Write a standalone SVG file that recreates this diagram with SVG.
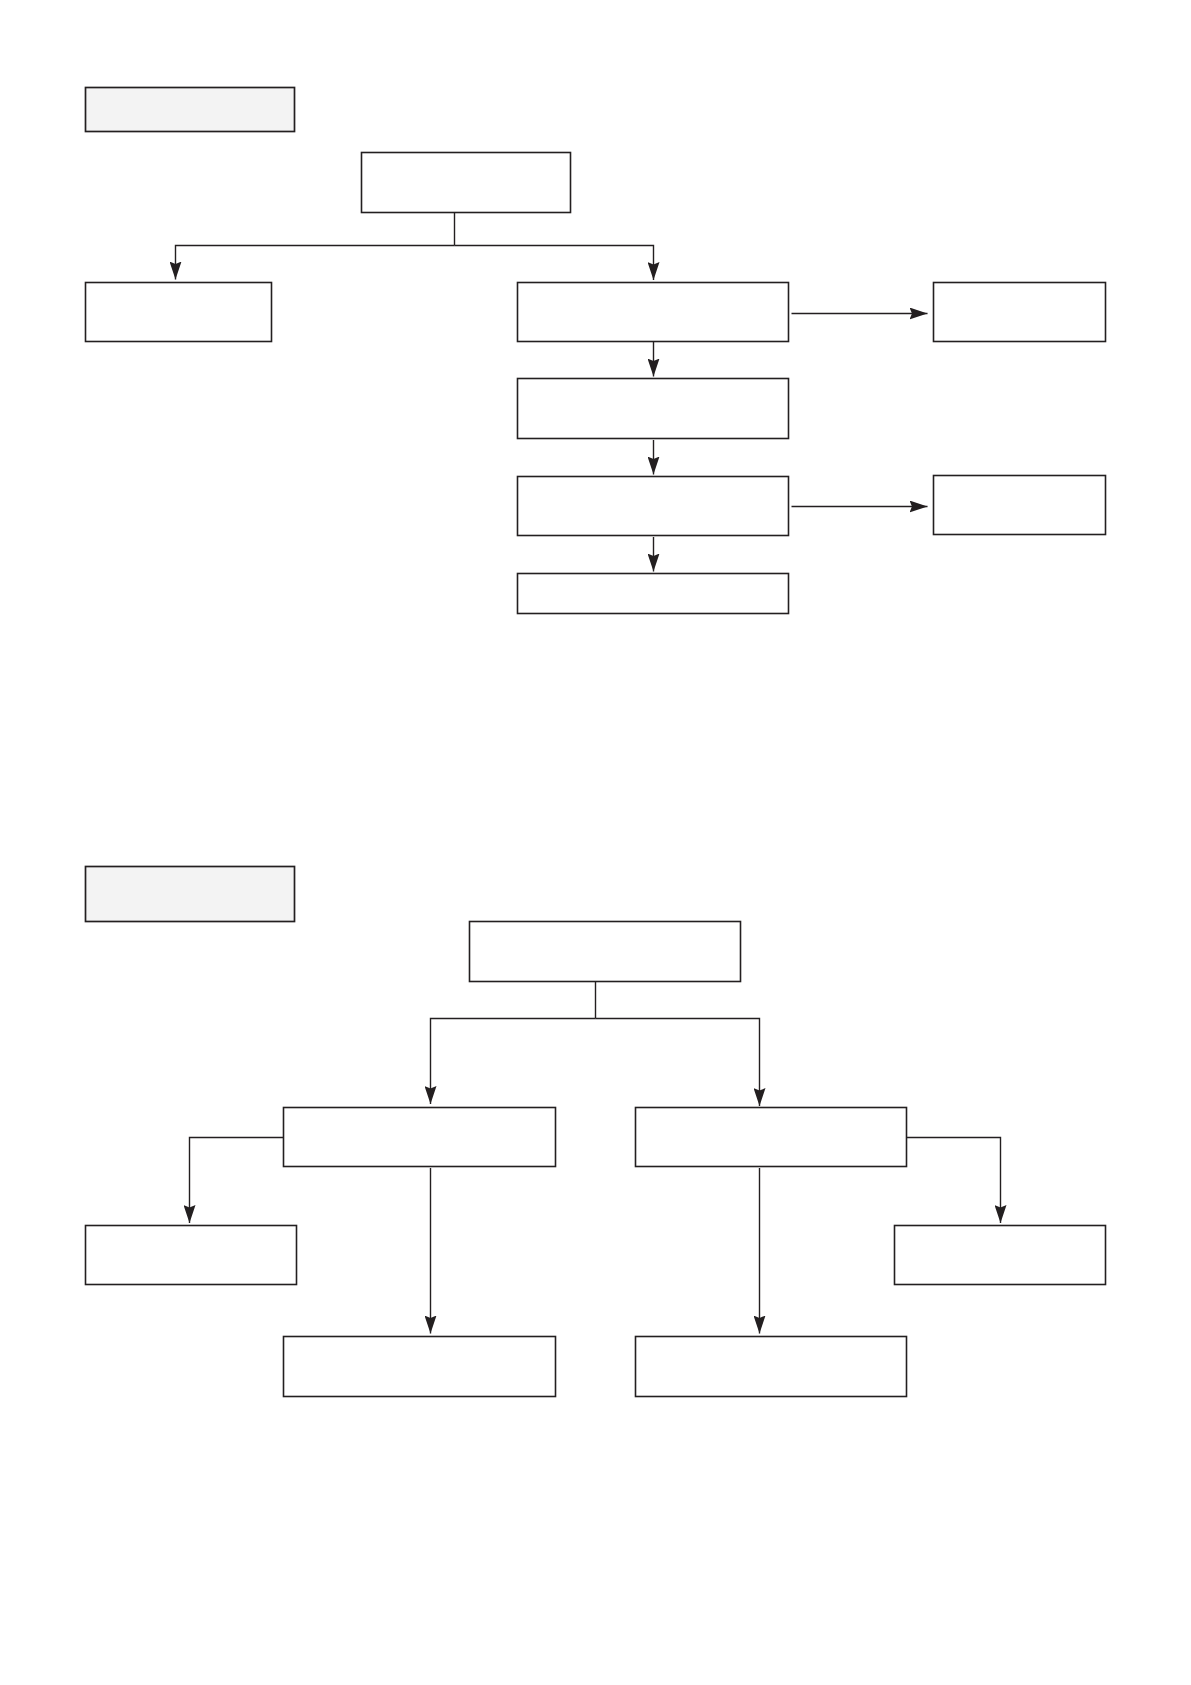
<svg xmlns="http://www.w3.org/2000/svg" width="1191" height="1685" viewBox="0 0 1191 1685">
<style>
.box{fill:#ffffff;stroke:#231f20;stroke-width:1.6}
.hdr{fill:#f3f3f3;stroke:#231f20;stroke-width:1.7}
.edge{fill:none;stroke:#231f20;stroke-width:1.4}
.arr{marker-end:url(#ah)}
</style>
<defs>
<marker id="ah" markerUnits="userSpaceOnUse" viewBox="0 0 18 12" markerWidth="18" markerHeight="12" refX="18" refY="6" orient="auto">
<path d="M0,0 L18,6 L0,12 L2.5,6 Z" fill="#231f20"/>
</marker>
</defs>
<rect width="1191" height="1685" fill="#ffffff"/>

<!-- Section 1 -->
<g id="header1"><rect class="hdr" x="85.5" y="87.5" width="209" height="44"/></g>
<g id="n_top1"><rect class="box" x="361.5" y="152.5" width="209" height="60"/></g>
<g id="n_left1"><rect class="box" x="85.5" y="282.5" width="186" height="59"/></g>
<g id="n_main1"><rect class="box" x="517.5" y="282.5" width="271" height="59"/></g>
<g id="n_main2"><rect class="box" x="517.5" y="378.5" width="271" height="60"/></g>
<g id="n_main3"><rect class="box" x="517.5" y="476.5" width="271" height="59"/></g>
<g id="n_main4"><rect class="box" x="517.5" y="573.5" width="271" height="40"/></g>
<g id="n_right1"><rect class="box" x="933.5" y="282.5" width="172" height="59"/></g>
<g id="n_right2"><rect class="box" x="933.5" y="475.5" width="172" height="59"/></g>

<!-- Section 2 -->
<g id="header2"><rect class="hdr" x="85.5" y="866.5" width="209" height="55"/></g>
<g id="n_top2"><rect class="box" x="469.5" y="921.5" width="271" height="60"/></g>
<g id="n_midL"><rect class="box" x="283.5" y="1107.5" width="272" height="59"/></g>
<g id="n_midR"><rect class="box" x="635.5" y="1107.5" width="271" height="59"/></g>
<g id="n_farL"><rect class="box" x="85.5" y="1225.5" width="211" height="59"/></g>
<g id="n_farR"><rect class="box" x="894.5" y="1225.5" width="211" height="59"/></g>
<g id="n_botL"><rect class="box" x="283.5" y="1336.5" width="272" height="60"/></g>
<g id="n_botR"><rect class="box" x="635.5" y="1336.5" width="271" height="60"/></g>

<g id="connectors">
<path class="edge" d="M454.5,212.5 V245.5"/>
<path class="edge arr" d="M454.5,245.5 H175.5 V279.5"/>
<path class="edge arr" d="M454.5,245.5 H653.5 V280"/>
<path class="edge arr" d="M653.5,341.5 V376.5"/>
<path class="edge arr" d="M653.5,440 V474.5"/>
<path class="edge arr" d="M653.5,537 V571.5"/>
<path class="edge arr" d="M791.5,313.5 H927.5"/>
<path class="edge arr" d="M791.5,506.5 H927.5"/>

<path class="edge" d="M595.5,981.5 V1018.5"/>
<path class="edge arr" d="M595.5,1018.5 H430.5 V1104"/>
<path class="edge arr" d="M595.5,1018.5 H759.5 V1106"/>
<path class="edge arr" d="M283.5,1137.5 H189.5 V1223"/>
<path class="edge arr" d="M906.5,1137.5 H1000.5 V1223"/>
<path class="edge arr" d="M430.5,1168 V1333.5"/>
<path class="edge arr" d="M759.5,1168 V1333.5"/>
</g>
</svg>
